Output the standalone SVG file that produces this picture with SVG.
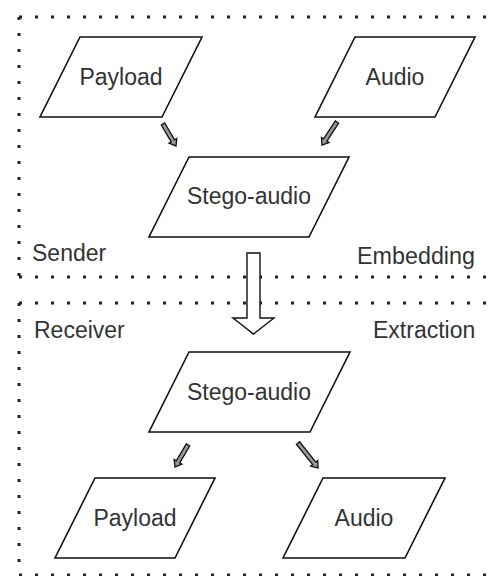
<svg xmlns="http://www.w3.org/2000/svg" width="494" height="576" viewBox="0 0 494 576">
  <style>
    .zone { fill: none; stroke: #222; stroke-width: 3; stroke-dasharray: 3 13; }
    .shape { fill: #fff; stroke: #111; stroke-width: 1.6; stroke-linejoin: miter; }
    .arrow { fill: #fff; stroke: #111; stroke-width: 1.4; stroke-linejoin: miter; }
    .small { fill: #999; stroke: #111; stroke-width: 1.3; stroke-linejoin: miter; }
    .lbl { font-family: "Liberation Sans", Arial, sans-serif; font-size: 23px; fill: #333; }
    .mid { text-anchor: middle; }
  </style>
  <rect width="494" height="576" fill="#fff"/>

  <g id="sender-zone">
    <path class="zone" d="M19,17 H560 M19,17 V277 M19,277 H560"/>
    <text class="lbl" x="32" y="261">Sender</text>
    <text class="lbl" x="357" y="264" textLength="118" lengthAdjust="spacingAndGlyphs">Embedding</text>
  </g>
  <g id="receiver-zone">
    <path class="zone" d="M19,303 H560 M19,303 V575 M19,575 H560"/>
    <text class="lbl" x="34" y="338">Receiver</text>
    <text class="lbl" x="373" y="338">Extraction</text>
  </g>

  <g id="payload-in">
    <polygon class="shape" points="80,37 202,37 162,117 40,117"/>
    <text class="lbl mid" x="121" y="85">Payload</text>
  </g>
  <g id="audio-in">
    <polygon class="shape" points="355,37 475,37 435,117 315,117"/>
    <text class="lbl mid" x="395" y="85">Audio</text>
  </g>
  <g id="stego-send">
    <polygon class="shape" points="189,157 349,157 309,237 149,237"/>
    <text class="lbl mid" x="249" y="204">Stego-audio</text>
  </g>
  <g id="stego-recv">
    <polygon class="shape" points="189,352 350,352 310,432 149,432"/>
    <text class="lbl mid" x="249" y="400">Stego-audio</text>
  </g>
  <g id="payload-out">
    <polygon class="shape" points="95,478 215,478 175,558 55,558"/>
    <text class="lbl mid" x="135" y="526">Payload</text>
  </g>
  <g id="audio-out">
    <polygon class="shape" points="323,478 445,478 405,558 283,558"/>
    <text class="lbl mid" x="364" y="526">Audio</text>
  </g>

  <g id="connectors">
    <g transform="translate(163,124) rotate(59.4)">
      <path class="small" d="M0,-2 H19.5 V-4.5 L25.5,0 L19.5,4.5 V2 H0 Z"/>
    </g>
    <g transform="translate(337,122) rotate(123.1)">
      <path class="small" d="M0,-2 H21.5 V-4.5 L27.5,0 L21.5,4.5 V2 H0 Z"/>
    </g>
    <g transform="translate(188,445) rotate(120.6)">
      <path class="small" d="M0,-2 H19.6 V-4.5 L25.6,0 L19.6,4.5 V2 H0 Z"/>
    </g>
    <g transform="translate(298,443) rotate(51.3)">
      <path class="small" d="M0,-2 H26 V-4.5 L32,0 L26,4.5 V2 H0 Z"/>
    </g>
    <polygon class="arrow" points="247,253 260,253 260,318 274,318 253.5,334 233,318 247,318"/>
  </g>
</svg>
